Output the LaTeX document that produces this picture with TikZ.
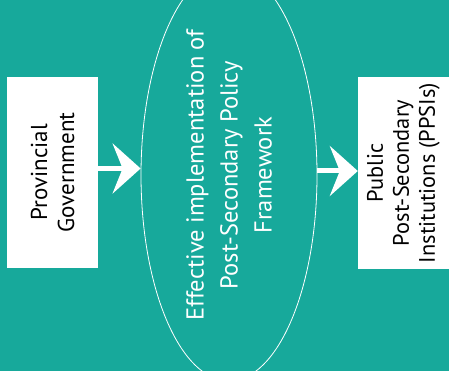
\documentclass[tikz,border=0pt]{standalone}
\usepackage{fontspec}
\setmainfont{PT Sans}
\usetikzlibrary{arrows.meta, shapes}
\definecolor{bgteal}{RGB}{23,169,155}

\begin{document}
\begin{tikzpicture}[x=1pt,y=1pt]
\useasboundingbox[fill=bgteal] (0,0) rectangle (449,371);
\begin{scope}[every node/.style={rotate=90, align=center, inner sep=0pt}]
    %left box
    \node[fill=white, minimum width=191pt, minimum height=91pt,
          font=\fontsize{23}{27}\selectfont] (gov) at (52.5,198.5) {Provincial\\Government};
    %middle ellipse
    \node[ellipse, draw=white, line width=0.8pt, minimum width=356pt, minimum height=176pt,
          text=white, font=\fontsize{24.5}{34}\selectfont] (ipf) at (229,196)
          {Effective implementation of\\Post-Secondary Policy\\Framework};
    %right box
    \node[fill=white, minimum width=192pt, minimum height=91pt,
          font=\fontsize{22.4}{26}\selectfont] (ppsi) at (403.5,198) {Public\\Post-Secondary\\Institutions (PPSIs)};
\end{scope}
    \draw[white, line width=5pt, -{Stealth[length=28pt, width=50pt, inset=10pt]}]
        ([yshift=4pt]gov.south) -- ([yshift=4pt]gov.south -| ipf.north);
    \draw[white, line width=5pt, -{Stealth[length=28pt, width=50pt, inset=10pt]}]
        ([yshift=4pt]ipf.south) -- ([yshift=4pt]ipf.south -| ppsi.north);
\end{tikzpicture}
\end{document}
